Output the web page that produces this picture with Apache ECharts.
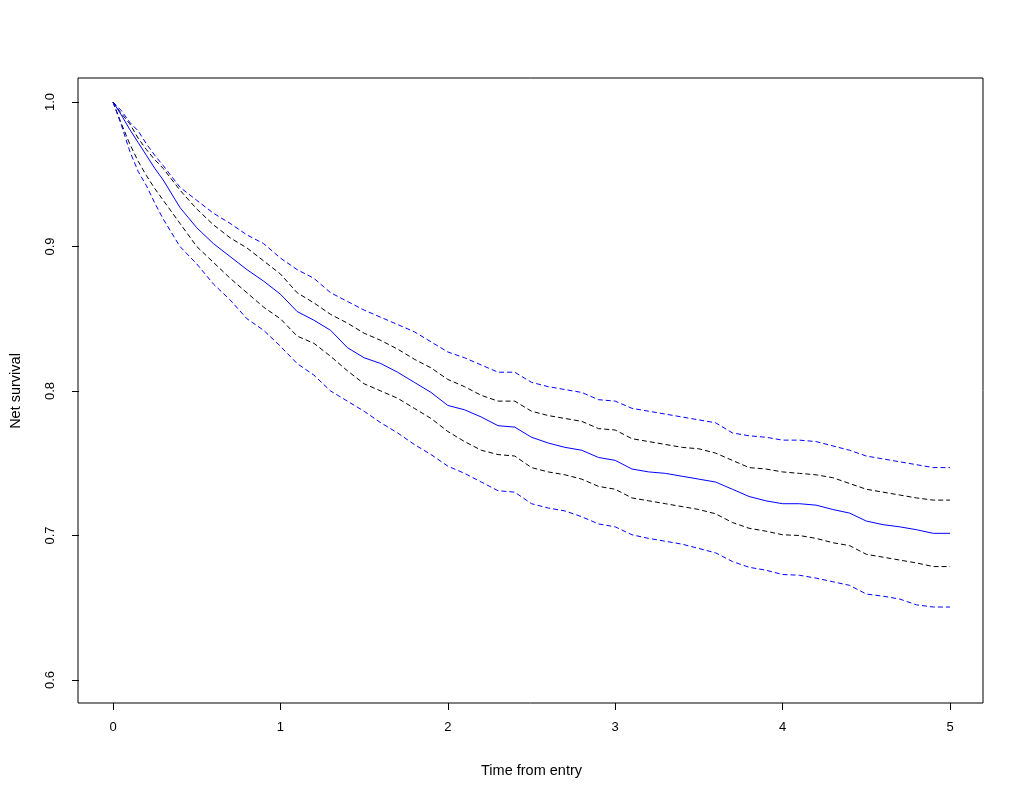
<!DOCTYPE html>
<html>
<head>
<meta charset="utf-8">
<script src="https://cdn.jsdelivr.net/npm/echarts@6/dist/echarts.min.js"></script>
<style>
html,body{margin:0;padding:0;background:#fff;}
#chart{width:1024px;height:800px;}
</style>
</head>
<body>
<div id="chart"></div>
<script>
// Time points (years from entry)
const times = [0, 0.05, 0.1, 0.15, 0.2, 0.25, 0.3, 0.4, 0.5, 0.6, 0.7, 0.8, 0.9, 1.0,
  1.1, 1.2, 1.3, 1.4, 1.5, 1.6, 1.7, 1.8, 1.9, 2.0,
  2.1, 2.2, 2.3, 2.4, 2.5, 2.6, 2.7, 2.8, 2.9, 3.0,
  3.1, 3.2, 3.3, 3.4, 3.5, 3.6, 3.7, 3.8, 3.9, 4.0,
  4.1, 4.2, 4.3, 4.4, 4.5, 4.6, 4.7, 4.8, 4.9, 5.0];

// Net survival estimate (solid blue)
const netSurvival = [1.000, 0.991, 0.981, 0.972, 0.963, 0.954, 0.946, 0.927, 0.913, 0.902, 0.893, 0.884, 0.876, 0.867,
  0.855, 0.849, 0.842, 0.830, 0.823, 0.819, 0.813, 0.806, 0.799, 0.790,
  0.787, 0.782, 0.776, 0.775, 0.768, 0.764, 0.761, 0.759, 0.754, 0.752,
  0.746, 0.744, 0.743, 0.741, 0.739, 0.737, 0.732, 0.727, 0.724, 0.722,
  0.722, 0.721, 0.718, 0.7155, 0.710, 0.7075, 0.706, 0.704, 0.7015, 0.7015];

// Outer upper band (blue dashed)
const upperBlue = [1.000, 0.994, 0.986, 0.980, 0.971, 0.963, 0.956, 0.941, 0.932, 0.923, 0.916, 0.908, 0.902, 0.892,
  0.884, 0.878, 0.868, 0.862, 0.856, 0.851, 0.846, 0.841, 0.834, 0.827,
  0.823, 0.818, 0.813, 0.813, 0.806, 0.803, 0.801, 0.799, 0.794, 0.793,
  0.788, 0.786, 0.784, 0.782, 0.780, 0.778, 0.771, 0.769, 0.768, 0.766,
  0.766, 0.765, 0.762, 0.759, 0.755, 0.753, 0.751, 0.749, 0.747, 0.747];

// Inner upper band (black dashed)
const upperBlack = [1.000, 0.992, 0.985, 0.975, 0.967, 0.960, 0.954, 0.939, 0.926, 0.915, 0.906, 0.899, 0.890, 0.881,
  0.868, 0.861, 0.853, 0.847, 0.840, 0.835, 0.829, 0.822, 0.816, 0.808,
  0.803, 0.797, 0.793, 0.793, 0.786, 0.783, 0.781, 0.779, 0.774, 0.773,
  0.767, 0.765, 0.763, 0.761, 0.760, 0.757, 0.752, 0.747, 0.746, 0.744,
  0.743, 0.742, 0.740, 0.736, 0.732, 0.730, 0.728, 0.726, 0.7245, 0.7245];

// Inner lower band (black dashed)
const lowerBlack = [1.000, 0.985, 0.971, 0.959, 0.949, 0.940, 0.932, 0.916, 0.900, 0.889, 0.878, 0.868, 0.858, 0.850,
  0.838, 0.833, 0.824, 0.814, 0.805, 0.800, 0.795, 0.788, 0.781, 0.772,
  0.765, 0.759, 0.756, 0.755, 0.747, 0.744, 0.742, 0.739, 0.734, 0.732,
  0.726, 0.724, 0.722, 0.720, 0.718, 0.715, 0.709, 0.705, 0.703, 0.7005,
  0.700, 0.698, 0.695, 0.693, 0.687, 0.685, 0.683, 0.681, 0.6785, 0.6785];

// Outer lower band (blue dashed)
const lowerBlue = [1.000, 0.984, 0.966, 0.952, 0.942, 0.930, 0.919, 0.900, 0.888, 0.874, 0.863, 0.850, 0.842, 0.831,
  0.819, 0.811, 0.800, 0.793, 0.786, 0.778, 0.771, 0.763, 0.756, 0.748,
  0.743, 0.737, 0.731, 0.730, 0.722, 0.719, 0.717, 0.713, 0.708, 0.706,
  0.7005, 0.698, 0.696, 0.694, 0.691, 0.688, 0.682, 0.678, 0.676, 0.673,
  0.6725, 0.6705, 0.668, 0.6655, 0.6595, 0.658, 0.656, 0.652, 0.6505, 0.6505];

const xTicks = [0, 1, 2, 3, 4, 5];
const yTicks = [0.6, 0.7, 0.8, 0.9, 1.0];
const xTitle = 'Time from entry';
const yTitle = 'Net survival';

function pairs(ys) { return times.map((t, i) => [t, ys[i]]); }

const FONT = '"Liberation Sans", Arial, sans-serif';
const chart = echarts.init(document.getElementById('chart'), null, { renderer: 'canvas' });
const dash = [5, 3];

chart.setOption({
  animation: false,
  backgroundColor: '#ffffff',
  grid: [
    { left: 78, right: 41, top: 78, bottom: 97, show: true, borderColor: '#000', borderWidth: 1, backgroundColor: 'transparent' },
    { left: 112, right: 74, top: 102, bottom: 120, show: false }
  ],
  xAxis: [
    { gridIndex: 0, type: 'value', show: false, min: 0, max: 1 },
    {
      gridIndex: 1, type: 'value', min: xTicks[0], max: xTicks[xTicks.length - 1], interval: 1,
      position: 'bottom', offset: 23,
      axisLine: { show: false, onZero: false, lineStyle: { color: '#000', width: 1 } },
      axisTick: { show: true, length: 7, lineStyle: { color: '#000' } },
      axisLabel: { color: '#000', fontSize: 13, fontFamily: FONT, margin: 18,
        formatter: v => xTicks.includes(v) ? String(v) : '' },
      splitLine: { show: false },
      name: xTitle, nameLocation: 'middle', nameGap: 60,
      nameTextStyle: { color: '#000', fontSize: 14.5, fontFamily: FONT }
    }
  ],
  yAxis: [
    { gridIndex: 0, type: 'value', show: false, min: 0, max: 1 },
    {
      gridIndex: 1, type: 'value', min: yTicks[0], max: yTicks[yTicks.length - 1], interval: 0.1,
      position: 'left', offset: 34,
      axisLine: { show: false, onZero: false, lineStyle: { color: '#000', width: 1 } },
      axisTick: { show: true, length: 7, lineStyle: { color: '#000' } },
      axisLabel: { color: '#000', fontSize: 13, fontFamily: FONT, margin: 22, rotate: 90,
        formatter: v => v.toFixed(1) },
      splitLine: { show: false },
      name: yTitle, nameLocation: 'middle', nameGap: 56, nameRotate: 90,
      nameTextStyle: { color: '#000', fontSize: 14.5, fontFamily: FONT }
    }
  ],
  series: [
    { type: 'line', xAxisIndex: 1, yAxisIndex: 1, data: pairs(upperBlue), showSymbol: false,
      lineStyle: { color: '#0000ff', width: 1, type: dash }, silent: true },
    { type: 'line', xAxisIndex: 1, yAxisIndex: 1, data: pairs(upperBlack), showSymbol: false,
      lineStyle: { color: '#000000', width: 1, type: dash }, silent: true },
    { type: 'line', xAxisIndex: 1, yAxisIndex: 1, data: pairs(netSurvival), showSymbol: false,
      lineStyle: { color: '#0000ff', width: 1, type: 'solid' }, silent: true },
    { type: 'line', xAxisIndex: 1, yAxisIndex: 1, data: pairs(lowerBlack), showSymbol: false,
      lineStyle: { color: '#000000', width: 1, type: dash }, silent: true },
    { type: 'line', xAxisIndex: 1, yAxisIndex: 1, data: pairs(lowerBlue), showSymbol: false,
      lineStyle: { color: '#0000ff', width: 1, type: dash }, silent: true }
  ]
});
</script>
</body>
</html>
